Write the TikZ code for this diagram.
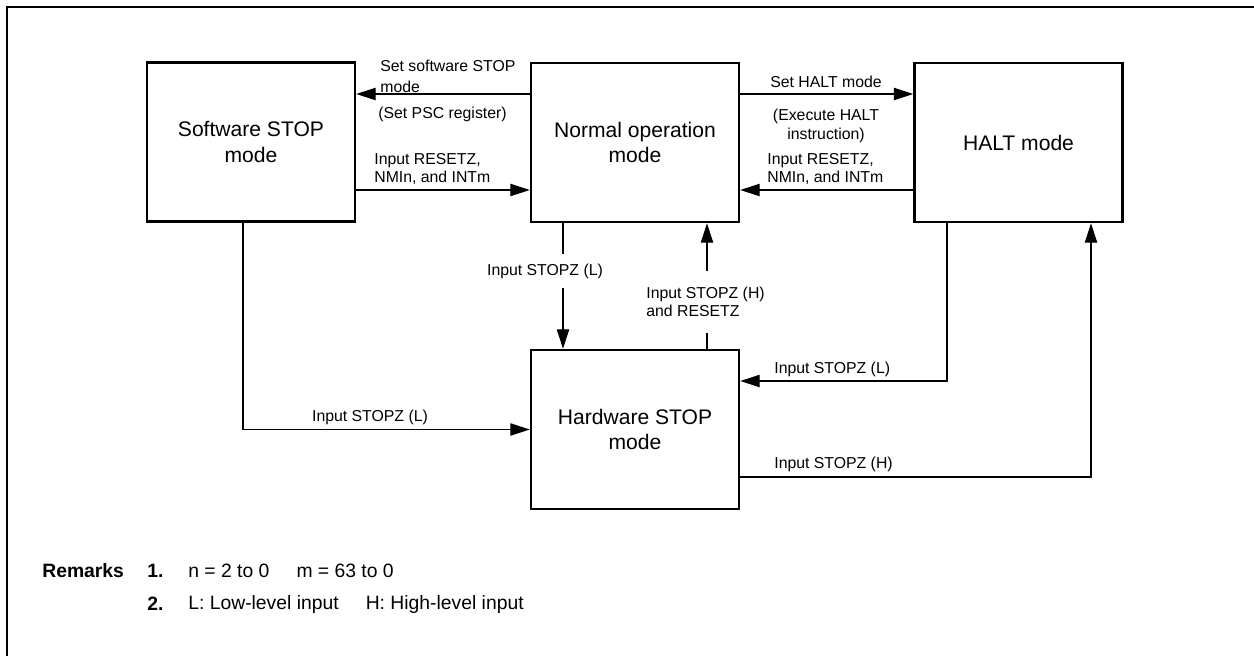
\documentclass[tikz,border=0pt]{standalone}
\usepackage{fontspec}
\setmainfont{Liberation Sans}
\usetikzlibrary{arrows.meta, positioning}

\begin{document}
\begin{tikzpicture}[x=0.02cm, y=-0.02cm,
  mode/.style={draw, line width=1.5pt, minimum width=4.16cm, minimum height=3.18cm, font=\fontsize{12}{14.5}\selectfont, align=center},
  lbl/.style={font=\fontsize{9}{10.5}\selectfont, inner sep=0pt},
  arr/.style={-{Triangle[length=11pt, width=7pt]}, line width=0.6pt},
  wire/.style={line width=0.6pt},
  rem/.style={font=\fontsize{11}{13}\selectfont, anchor=west, inner sep=0pt}
]
  \useasboundingbox (0,0) rectangle (1254,656);

  % Frame
  \draw[line width=1pt] (7,656) -- (7,7) -- (1254,7);

  % Operating modes
  \node[mode] (sw) at (251,142) {Software STOP\\mode};
  \node[mode] (normal) at (635,142.5) {Normal operation\\mode};
  \node[mode] (halt) at (1018.5,142.5) {HALT mode};
  \node[mode] (hw) at (635,429.5) {Hardware STOP\\mode};

  % Connector rails
  \coordinate (ytop) at (0,94);
  \coordinate (ybot) at (0,190);
  \coordinate (xdn) at (563,0);
  \coordinate (xup) at (707,0);
  \coordinate (xsw) at (243,0);
  \coordinate (xhl) at (947,0);
  \coordinate (xhr) at (1091,0);
  \coordinate (yhl) at (0,381);
  \coordinate (yhh) at (0,477);

  % Labels
  \node[lbl, align=left, anchor=west] (setsw) at (380,76) {Set software STOP\\[1.5pt]mode};
  \node[lbl, anchor=west] (psc) at (378,114) {(Set PSC register)};
  \node[lbl, align=left, anchor=west] (intl) at (374,169) {Input RESETZ,\\NMIn, and INTm};
  \node[lbl] (sethalt) at (826,82) {Set HALT mode};
  \node[lbl, align=center] (exec) at (826,126) {(Execute HALT\\instruction)};
  \node[lbl, align=left, anchor=west] (intr) at (767,169) {Input RESETZ,\\NMIn, and INTm};
  \node[lbl, inner ysep=5.5pt] (stopl) at (545,271) {Input STOPZ (L)};
  \node[lbl, align=left, inner ysep=9pt, anchor=west] (stoph) at (646,302) {Input STOPZ (H)\\and RESETZ};
  \node[lbl] (stoplsw) at (370,417) {Input STOPZ (L)};
  \node[lbl, anchor=west] (stoplh) at (774,369) {Input STOPZ (L)};
  \node[lbl, anchor=west] (stophh) at (774,464) {Input STOPZ (H)};

  % Transitions between top row
  \draw[arr] (normal.west |- ytop) -- (sw.east |- ytop);
  \draw[arr] (sw.east |- ybot) -- (normal.west |- ybot);
  \draw[arr] (normal.east |- ytop) -- (halt.west |- ytop);
  \draw[arr] (halt.west |- ybot) -- (normal.east |- ybot);

  % Transitions to and from hardware STOP
  \draw[wire] (normal.south -| xdn) -- (stopl.north -| xdn);
  \draw[arr] (stopl.south -| xdn) -- (hw.north -| xdn);
  \draw[wire] (hw.north -| xup) -- (stoph.south -| xup);
  \draw[arr] (stoph.north -| xup) -- (normal.south -| xup);
  \draw[arr] (sw.south -| xsw) |- (hw.west);
  \draw[arr] (halt.south -| xhl) |- (hw.east |- yhl);
  \draw[arr] (hw.east |- yhh) -| (halt.south -| xhr);

  % Remarks
  \node[rem] (remk) at (42,571) {\textbf{Remarks}};
  \node[rem] (rn1) at (147,571) {\textbf{1.}};
  \node[rem] (rt1) at (188,571) {n = 2 to 0\hspace{1.4em}m = 63 to 0};
  \node[rem] (rn2) at (147,604) {\textbf{2.}};
  \node[rem] (rt2) at (188,604) {L: Low-level input\hspace{1.4em}H: High-level input};

\end{tikzpicture}
\end{document}
